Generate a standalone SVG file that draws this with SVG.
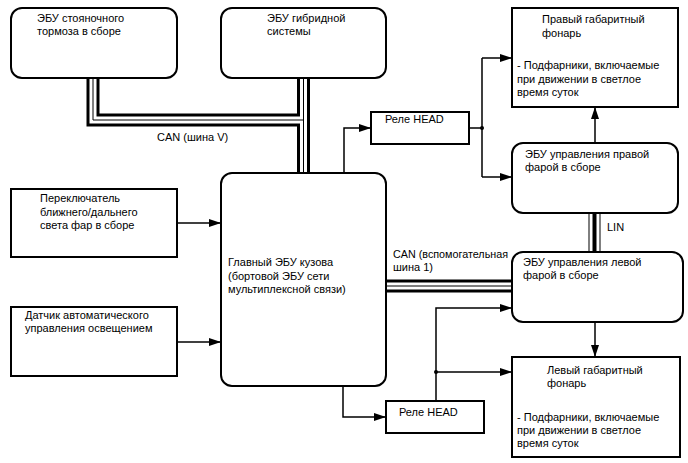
<svg xmlns="http://www.w3.org/2000/svg" width="688" height="463" viewBox="0 0 688 463">
<defs>
<marker id="arr" viewBox="0 0 12 8" refX="12" refY="4" markerWidth="12" markerHeight="8" markerUnits="userSpaceOnUse" orient="auto">
<path d="M0,0 L12,4 L0,8 Z" fill="#000"/>
</marker>
<style>
.box{fill:#fff;stroke:#000;stroke-width:2}
.t{font-family:"Liberation Sans",Arial,sans-serif;font-size:11px;fill:#000}
.ln{fill:none;stroke:#000;stroke-width:1.5}
.bk{fill:none;stroke:#000;stroke-width:13;stroke-linejoin:miter}
.wh{fill:none;stroke:#fff;stroke-width:7;stroke-linejoin:miter}
.th{fill:none;stroke:#000;stroke-width:1;stroke-linejoin:miter}
</style>
</defs>
<rect width="688" height="463" fill="#fff"/>

<g id="connectors">
<!-- CAN V bus -->
<path class="bk" d="M93,78 V120 H303.5 M303.5,78 V173"/>
<path class="wh" d="M93,78 V120 H303.5 M303.5,78 V173"/>
<path class="th" d="M93,78 V120 H303.5 M303.5,78 V173"/>
<!-- CAN aux bus -->
<path class="bk" d="M386,286 H512"/>
<path class="wh" d="M386,286 H512"/>
<path class="th" d="M386,286 H512"/>
<!-- LIN -->
<path d="M594.5,213 V252" stroke="#000" stroke-width="12" fill="none"/>
<path d="M594.5,213 V252" stroke="#fff" stroke-width="10" fill="none"/>
<path d="M594.5,213 V252" stroke="#000" stroke-width="4" fill="none"/>

<path class="ln" d="M177,223 H221" marker-end="url(#arr)"/>
<path class="ln" d="M177,342 H221" marker-end="url(#arr)"/>
<path class="ln" d="M344,173 V128 H371" marker-end="url(#arr)"/>
<path class="ln" d="M343,386 V417 H386" marker-end="url(#arr)"/>
<path class="ln" d="M469,128 H482 M482,58 V177"/>
<path class="ln" d="M482,58 H512" marker-end="url(#arr)"/>
<path class="ln" d="M482,177 H512" marker-end="url(#arr)"/>
<circle cx="482" cy="128" r="2" fill="#000"/>
<path class="ln" d="M436,401 V308 H512" marker-end="url(#arr)"/>
<path class="ln" d="M436,372 H512" marker-end="url(#arr)"/>
<circle cx="436" cy="372" r="2" fill="#000"/>
<path class="ln" d="M595,143 V107" marker-end="url(#arr)"/>
<path class="ln" d="M595,322 V357" marker-end="url(#arr)"/>

<text class="t" x="157" y="141">CAN (шина V)</text>
<text class="t" x="393" y="258" textLength="115" lengthAdjust="spacingAndGlyphs">CAN (вспомогательная</text>
<text class="t" x="393" y="271">шина 1)</text>
<text class="t" x="607" y="231">LIN</text>
</g>

<g id="parking-brake-ecu">
<rect class="box" x="11" y="8" width="166" height="70" rx="11"/>
<text class="t" x="37" y="22">ЭБУ стояночного</text>
<text class="t" x="37" y="35">тормоза в сборе</text>
</g>

<g id="hybrid-ecu">
<rect class="box" x="221" y="8" width="165" height="70" rx="11"/>
<text class="t" x="267" y="22">ЭБУ гибридной</text>
<text class="t" x="267" y="35">системы</text>
</g>

<g id="main-body-ecu">
<rect class="box" x="221" y="173" width="165" height="213" rx="11"/>
<text class="t" x="228" y="266">Главный ЭБУ кузова</text>
<text class="t" x="228" y="280">(бортовой ЭБУ сети</text>
<text class="t" x="228" y="293">мультиплексной связи)</text>
</g>

<g id="dimmer-switch">
<rect class="box" x="11" y="189" width="166" height="68"/>
<text class="t" x="40" y="202">Переключатель</text>
<text class="t" x="40" y="216">ближнего/дальнего</text>
<text class="t" x="40" y="229">света фар в сборе</text>
</g>

<g id="light-sensor">
<rect class="box" x="11" y="307" width="166" height="69"/>
<text class="t" x="25" y="319">Датчик автоматического</text>
<text class="t" x="25" y="332">управления освещением</text>
</g>

<g id="relay-head-top">
<rect class="box" x="371" y="112" width="98" height="32"/>
<text class="t" x="385" y="123">Реле HEAD</text>
</g>

<g id="relay-head-bottom">
<rect class="box" x="386" y="401" width="98" height="32"/>
<text class="t" x="399" y="416">Реле HEAD</text>
</g>

<g id="right-marker">
<rect class="box" x="512" y="8" width="166" height="99"/>
<text class="t" x="542" y="23">Правый габаритный</text>
<text class="t" x="542" y="37">фонарь</text>
<text class="t" x="517" y="69">- Подфарники, включаемые</text>
<text class="t" x="517" y="83">при движении в светлое</text>
<text class="t" x="517" y="96">время суток</text>
</g>

<g id="right-headlamp-ecu">
<rect class="box" x="512" y="143" width="166" height="70" rx="11"/>
<text class="t" x="525" y="158">ЭБУ управления правой</text>
<text class="t" x="525" y="171">фарой в сборе</text>
</g>

<g id="left-headlamp-ecu">
<rect class="box" x="512" y="252" width="171" height="70" rx="11"/>
<text class="t" x="523" y="266">ЭБУ управления левой</text>
<text class="t" x="523" y="279">фарой в сборе</text>
</g>

<g id="left-marker">
<rect class="box" x="512" y="357" width="168" height="100"/>
<text class="t" x="547" y="374">Левый габаритный</text>
<text class="t" x="547" y="387">фонарь</text>
<text class="t" x="517" y="421">- Подфарники, включаемые</text>
<text class="t" x="517" y="434">при движении в светлое</text>
<text class="t" x="517" y="447">время суток</text>
</g>
</svg>
